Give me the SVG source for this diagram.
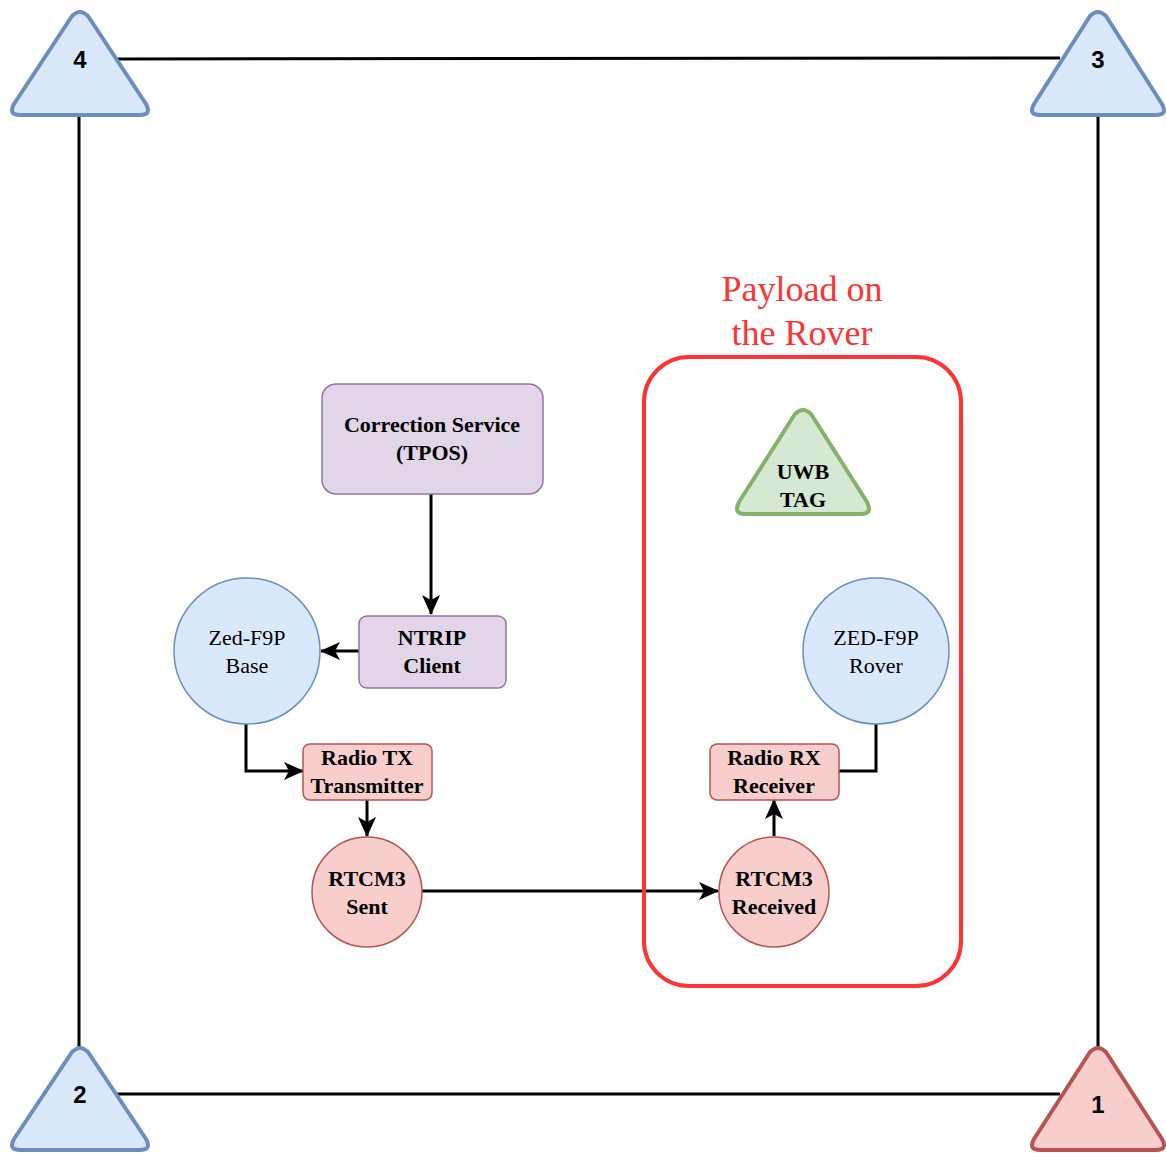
<svg xmlns="http://www.w3.org/2000/svg" width="1166" height="1153" viewBox="0 0 1166 1153">
<style>
.tri{stroke-width:4;stroke-linejoin:round}
.blue{fill:#dae8fc;stroke:#6c8ebf}
.red{fill:#f8cecc;stroke:#b85450}
.purple{fill:#e1d5e7;stroke:#9673a6;stroke-width:1.5}
.green{fill:#d5e8d4;stroke:#82b366}
.num{font-family:"Liberation Sans",Arial,sans-serif;font-weight:bold;font-size:24px;fill:#000;text-anchor:middle}
.bt{font-family:"Liberation Serif","Times New Roman",serif;font-weight:bold;font-size:22px;fill:#000;text-anchor:middle}
.rt{font-family:"Liberation Serif","Times New Roman",serif;font-size:22px;fill:#000;text-anchor:middle}
.edge{fill:none;stroke:#000;stroke-width:3}
</style>
<defs>
<marker id="arr" markerWidth="22" markerHeight="20" viewBox="0 0 22 20" refX="20" refY="10" orient="auto" markerUnits="userSpaceOnUse">
<path d="M1,1 L21,10 L1,19 L6,10 Z" fill="#000"/>
</marker>
</defs>
<g id="connectors">
<path class="edge" d="M117,59 L1060,58"/>
<path class="edge" d="M79,115 L79,1047"/>
<path class="edge" d="M1098,117 L1098,1047"/>
<path class="edge" d="M117,1094 L1060,1094"/>
<path class="edge" d="M431,494 L431,614" marker-end="url(#arr)"/>
<path class="edge" d="M359,651 L321,651" marker-end="url(#arr)"/>
<path class="edge" d="M246,724 L246,771 L303,771" marker-end="url(#arr)"/>
<path class="edge" d="M367,800 L367,836" marker-end="url(#arr)"/>
<path class="edge" d="M422,891 L718,891" marker-end="url(#arr)"/>
<path class="edge" d="M774,836 L774,800" marker-end="url(#arr)"/>
<path class="edge" d="M876,724 L876,771 L839,771"/>
</g>
<g id="anchor4">
<path class="tri blue" d="M72,16 Q80,8 88,16 L146,104 Q152,115 140,115 L20,115 Q8,115 14,104 Z"/>
<text class="num" x="80" y="68">4</text>
</g>
<g id="anchor3">
<path class="tri blue" d="M1090,16 Q1098,8 1106,16 L1162,104 Q1168,115 1156,115 L1040,115 Q1028,115 1034,104 Z"/>
<text class="num" x="1098" y="68">3</text>
</g>
<g id="anchor2">
<path class="tri blue" d="M72,1052 Q80,1044 88,1052 L146,1139 Q152,1150 140,1150 L20,1150 Q8,1150 14,1139 Z"/>
<text class="num" x="80" y="1103">2</text>
</g>
<g id="anchor1">
<path class="tri red" d="M1090,1052 Q1098,1044 1106,1052 L1162,1139 Q1168,1150 1156,1150 L1040,1150 Q1028,1150 1034,1139 Z"/>
<text class="num" x="1098" y="1113">1</text>
</g>
<g id="payload-container">
<rect x="644" y="357" width="317" height="629" rx="45" fill="none" stroke="#ff3333" stroke-width="4"/>
<text font-family="'Liberation Serif','Times New Roman',serif" font-size="36" fill="#ff3333" text-anchor="middle" x="802" y="301">Payload on</text>
<text font-family="'Liberation Serif','Times New Roman',serif" font-size="36" fill="#ff3333" text-anchor="middle" x="802" y="345">the Rover</text>
</g>
<g id="correction-service">
<rect class="purple" x="322" y="384" width="221" height="110" rx="14"/>
<text class="bt" x="432" y="432">Correction Service</text>
<text class="bt" x="432" y="460">(TPOS)</text>
</g>
<g id="ntrip-client">
<rect class="purple" x="359" y="616" width="147" height="72" rx="8"/>
<text class="bt" x="432" y="645">NTRIP</text>
<text class="bt" x="432" y="673">Client</text>
</g>
<g id="base">
<circle cx="247" cy="651" r="73" fill="#dae8fc" stroke="#6c8ebf" stroke-width="1.5"/>
<text class="rt" x="247" y="645">Zed-F9P</text>
<text class="rt" x="247" y="673">Base</text>
</g>
<g id="radio-tx">
<rect x="303" y="744" width="129" height="56" rx="7" fill="#f8cecc" stroke="#b85450" stroke-width="1.5"/>
<text class="bt" x="367" y="765">Radio TX</text>
<text class="bt" x="367" y="793">Transmitter</text>
</g>
<g id="rtcm3-sent">
<circle cx="367" cy="892" r="55" fill="#f8cecc" stroke="#b85450" stroke-width="1.5"/>
<text class="bt" x="367" y="886">RTCM3</text>
<text class="bt" x="367" y="914">Sent</text>
</g>
<g id="rtcm3-received">
<circle cx="774" cy="892" r="55" fill="#f8cecc" stroke="#b85450" stroke-width="1.5"/>
<text class="bt" x="774" y="886">RTCM3</text>
<text class="bt" x="774" y="914">Received</text>
</g>
<g id="radio-rx">
<rect x="710" y="744" width="129" height="56" rx="7" fill="#f8cecc" stroke="#b85450" stroke-width="1.5"/>
<text class="bt" x="774" y="765">Radio RX</text>
<text class="bt" x="774" y="793">Receiver</text>
</g>
<g id="rover">
<circle cx="876" cy="651" r="73" fill="#dae8fc" stroke="#6c8ebf" stroke-width="1.5"/>
<text class="rt" x="876" y="645">ZED-F9P</text>
<text class="rt" x="876" y="673">Rover</text>
</g>
<g id="uwb-tag">
<path class="tri green" d="M795,414 Q803,406 811,414 L867,502 Q873,514 861,514 L745,514 Q733,514 739,502 Z"/>
<text class="bt" x="803" y="479">UWB</text>
<text class="bt" x="803" y="507">TAG</text>
</g>
</svg>
